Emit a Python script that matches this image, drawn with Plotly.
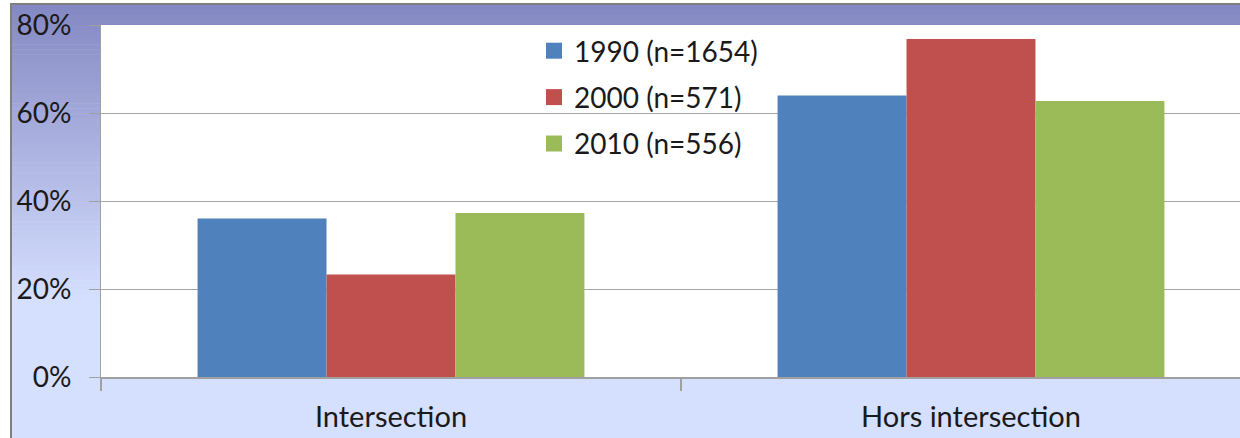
import plotly.graph_objects as go

categories = ["Intersection", "Hors intersection"]
series_names = ["1990 (n=1654)", "2000 (n=571)", "2010 (n=556)"]
v1990 = [0.36, 0.64]
v2000 = [0.233, 0.768]
v2010 = [0.373, 0.627]
colors = ["#4f81bd", "#c0504d", "#9bbb59"]
y_ticks = [0, 0.2, 0.4, 0.6, 0.8]
y_ticklabels = ["0%", "20%", "40%", "60%", "80%"]

W, H = 1240, 438
ML, MR, MT, MB = 101, 0, 25, 61

fig = go.Figure()
for name, vals, col in zip(series_names, [v1990, v2000, v2010], colors):
    fig.add_trace(go.Bar(x=categories, y=vals, name=name, marker_color=col,
                         marker_line_width=0, showlegend=False))
    fig.add_trace(go.Scatter(x=[None], y=[None], mode="markers", name=name,
                             marker=dict(symbol="square", size=17, color=col),
                             legendgroup=name))

# background gradient (paper-referenced shapes beneath the plot area)
def px2x(px):
    return (px - ML) / (W - ML - MR)

def py2y(py):
    return (H - MB - py) / (H - MT - MB)

top_c = (0x84, 0x88, 0xc3)
bot_c = (0xd5, 0xdf, 0xfe)
g0, g1 = 5, 300
shapes = []
n = 60
for i in range(n):
    a = g0 + (g1 - g0) * i / n
    b = g0 + (g1 - g0) * (i + 1) / n
    t = (i + 0.5) / n
    c = tuple(round(top_c[k] + (bot_c[k] - top_c[k]) * t) for k in range(3))
    shapes.append(dict(type="rect", xref="paper", yref="paper", layer="below",
                       x0=px2x(12), x1=px2x(W + 2), y0=py2y(b + 0.5), y1=py2y(a),
                       fillcolor="rgb(%d,%d,%d)" % c, line_width=0))
shapes.append(dict(type="rect", xref="paper", yref="paper", layer="below",
                   x0=px2x(12), x1=px2x(W + 2), y0=py2y(H + 2), y1=py2y(g1),
                   fillcolor="rgb(%d,%d,%d)" % bot_c, line_width=0))
# outer border (top and left)
shapes.append(dict(type="path", xref="paper", yref="paper", layer="below",
                   path="M %f,%f L %f,%f L %f,%f" % (px2x(11), py2y(H + 2), px2x(11), py2y(4),
                                                     px2x(W + 2), py2y(4)),
                   line=dict(color="#808080", width=2)))
# white plot area
shapes.append(dict(type="rect", xref="x domain", yref="y domain", layer="below",
                   x0=0, x1=1, y0=0, y1=1, fillcolor="white", line_width=0))

font = "Lato, Carlito, Calibri, sans-serif"
fig.update_layout(
    width=W, height=H,
    margin=dict(l=ML, r=MR, t=MT, b=MB, pad=0, autoexpand=False),
    paper_bgcolor="white",
    plot_bgcolor="white",
    barmode="group", bargap=0.333, bargroupgap=0,
    shapes=shapes,
    font=dict(family=font, size=28, color="#1a1a1a"),
    legend=dict(x=px2x(534), y=py2y(26), xanchor="left", yanchor="top",
                bgcolor="rgba(0,0,0,0)", font=dict(size=28), tracegroupgap=7,
                traceorder="grouped", itemwidth=30),
    xaxis=dict(range=[-0.5, 1.4638], showline=True, linecolor="#a0a0a0", linewidth=2,
               ticks="outside", tickson="boundaries", ticklen=12, tickcolor="#a0a0a0",
               tickwidth=2, showgrid=False, ticklabelstandoff=13, automargin=False,
               tickfont=dict(size=29), fixedrange=True),
    yaxis=dict(range=[0, 0.8], tickvals=y_ticks, ticktext=y_ticklabels,
               showline=True, linecolor="#a0a0a0", linewidth=1,
               ticks="outside", ticklen=11, tickcolor="#a0a0a0", tickwidth=1,
               showgrid=True, gridcolor="#a6a6a6", gridwidth=1, zeroline=False,
               ticklabelstandoff=12, automargin=False,
               tickfont=dict(size=28), fixedrange=True),
)

fig.write_html("out.html", config={"displayModeBar": False},
               post_script="document.body.style.margin='0';document.body.style.overflow='hidden';")
